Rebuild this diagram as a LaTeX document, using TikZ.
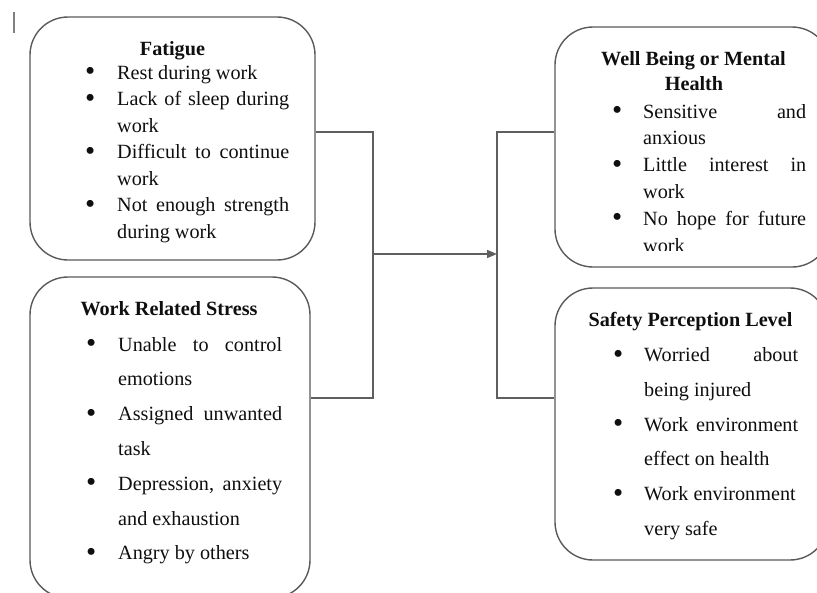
\documentclass[tikz,border=0pt]{standalone}
\usepackage{fontspec}
\setmainfont{Liberation Serif}
\usetikzlibrary{arrows.meta}
\definecolor{boxgray}{RGB}{90,90,90}
\definecolor{linegray}{RGB}{95,95,95}
\definecolor{txt}{RGB}{15,15,15}
\newcommand\bul{\makebox[0pt]{\raisebox{-1.6pt}{\fontsize{29}{29}\selectfont\textbullet}}}
\newcommand\itmj[3]{\hbox{\bul\hspace{#1}\makebox[#2][s]{#3}}}
\newcommand\itmn[2]{\hbox{\bul\hspace{#1}#2}}
\newcommand\cnt[2]{\hbox{\hspace{#1}#2}}
\begin{document}
\begin{tikzpicture}[x=1pt,y=-1pt,
  boxshape/.style={draw=boxgray, line width=1.4pt, rounded corners=38pt, rectangle, inner sep=0pt},
  conn/.style={draw=linegray, line width=1.5pt},
  ttl/.style={anchor=base, inner sep=0pt, text=txt, font=\fontsize{20.2}{24}\selectfont\bfseries},
  lst/.style={anchor=base west, inner sep=0pt, text=txt, font=\fontsize{20.2}{24}\selectfont}]
\useasboundingbox (0,0) rectangle (817,592);
\clip (0,0) rectangle (817,592);
\fill[white] (0,0) rectangle (817,592);

% cursor mark
\draw[gray, line width=1.5pt] (14,12) -- (14,33);

% boxes
\node[boxshape, minimum width=285pt, minimum height=243pt] (fat) at (172.5,138.5) {};
\node[boxshape, minimum width=280pt, minimum height=321pt] (wrs) at (170,437.5) {};
\node[boxshape, minimum width=275pt, minimum height=240pt] (wb) at (692.5,147) {};
\node[boxshape, minimum width=273pt, minimum height=272pt] (saf) at (691.5,424) {};

% titles
\node[ttl] (fatT) at (172.5,55) {Fatigue};
\node[ttl] (wrsT) at (169,315) {Work Related Stress};
\node[ttl] (wbT1) at (693.5,65.7) {Well Being or Mental};
\node[ttl] (wbT2) at (694,90.7) {Health};
\node[ttl] (safT) at (690.5,326.7) {Safety Perception Level};

% lists
\node[lst] (fatL) at (90,79) {\vtop{\baselineskip=26.5pt
\itmn{27pt}{Rest during work}
\itmj{27pt}{172pt}{Lack of sleep during}
\cnt{27pt}{work}
\itmj{27pt}{172pt}{Difficult to continue}
\cnt{27pt}{work}
\itmj{27pt}{172pt}{Not enough strength}
\cnt{27pt}{during work}}};

\node[lst] (wrsL) at (91,351) {\vtop{\baselineskip=34.8pt
\itmj{27pt}{164pt}{Unable to control}
\cnt{27pt}{emotions}
\itmj{27pt}{164pt}{Assigned unwanted}
\cnt{27pt}{task}
\itmj{27pt}{164pt}{Depression, anxiety}
\cnt{27pt}{and exhaustion}
\itmn{27pt}{Angry by others}}};

\begin{scope}
\clip (550,0) rectangle (817,250);
\node[lst] (wbL) at (617,118) {\vtop{\baselineskip=26.8pt
\itmj{26pt}{163pt}{Sensitive and}
\cnt{26pt}{anxious}
\itmj{26pt}{163pt}{Little interest in}
\cnt{26pt}{work}
\itmj{26pt}{163pt}{No hope for future}
\cnt{26pt}{work}}};
\end{scope}

\node[lst] (safL) at (618,361.7) {\vtop{\baselineskip=34.7pt
\itmj{26pt}{154pt}{Worried about}
\cnt{26pt}{being injured}
\itmj{26pt}{154pt}{Work environment}
\cnt{26pt}{effect on health}
\itmn{26pt}{Work environment}
\cnt{26pt}{very safe}}};

% connectors
\coordinate (j1) at (373,132);
\coordinate (j2) at (373,398);
\coordinate (m) at (373,254);
\coordinate (r1) at (497,132);
\coordinate (r2) at (497,398);
\coordinate (tip) at (497,254);
\draw[conn] (fat.east |- j1) -- (j1) -- (j2) -- (wrs.east |- j2);
\draw[conn, -{Triangle[length=10pt,width=8pt]}] (m) -- (tip);
\draw[conn] (wb.west |- r1) -- (r1) -- (r2) -- (saf.west |- r2);
\end{tikzpicture}
\end{document}
